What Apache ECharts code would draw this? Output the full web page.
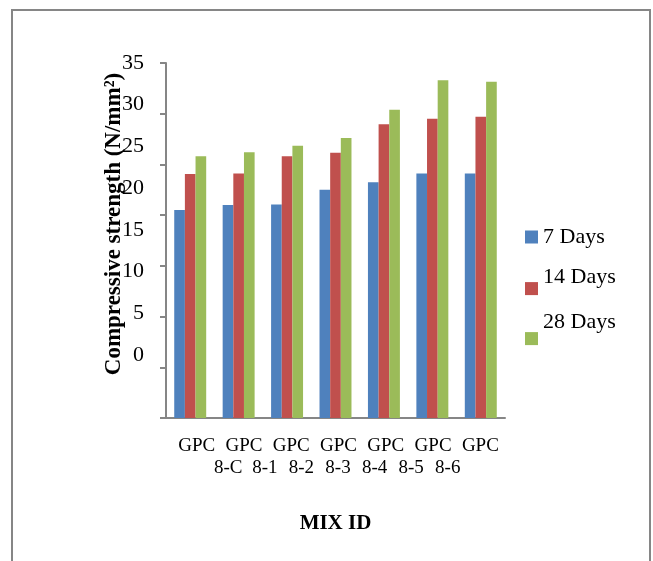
<!DOCTYPE html>
<html>
<head>
<meta charset="utf-8">
<style>
  html, body { margin: 0; padding: 0; background: #fff; }
  #chart { width: 653px; height: 561px; }
</style>
<script src="https://cdn.jsdelivr.net/npm/echarts@6/dist/echarts.min.js"></script>
</head>
<body>
<div id="chart"></div>
<script>
// Compressive strength of GPC mixes at three curing ages
const categories = ['GPC 8-C', 'GPC 8-1', 'GPC 8-2', 'GPC 8-3', 'GPC 8-4', 'GPC 8-5', 'GPC 8-6'];
const seriesNames = ['7 Days', '14 Days', '28 Days'];
const days7  = [20.5, 21.0, 21.05, 22.5, 23.25, 24.1, 24.1];
const days14 = [24.05, 24.1, 25.8, 26.15, 28.95, 29.5, 29.7];
const days28 = [25.8, 26.2, 26.85, 27.6, 30.4, 33.3, 33.15];
const yTicks = { min: 0, max: 35, step: 5 };

const colors = ['#4F81BD', '#C0504D', '#9BBB59'];
const serif = "'Liberation Serif', 'Times New Roman', serif";
const axisGray = '#868686';

// the two wrapped rows of the category labels
const labelRow1 = categories.map(c => c.split(' ')[0]);
const labelRow2 = categories.map(c => c.split(' ')[1]);

// legend entries: a blank second line lifts the name above its swatch
function legendEntry(name, top, lift) {
  const base = { fontFamily: serif, fontSize: 22, color: '#000' };
  return {
    data: [name], left: 525, top: top, padding: 0,
    itemWidth: 13, itemHeight: 13, itemGap: 0, icon: 'rect',
    formatter: lift ? (n => n + '\n ') : (n => n),
    textStyle: lift ? Object.assign(base, { lineHeight: lift * 2 }) : base
  };
}

const chart = echarts.init(document.getElementById('chart'), null, { renderer: 'canvas' });

chart.setOption({
  animation: false,
  backgroundColor: '#ffffff',
  graphic: [{
    type: 'rect',
    shape: { x: 12, y: 10, width: 638, height: 600 },
    style: { fill: 'none', stroke: axisGray, lineWidth: 2 },
    silent: true
  }],
  grid: [
    // plot area
    { left: 166, top: 63, width: 339, height: 355, outerBoundsMode: 'none', containLabel: false },
    // value labels column
    { left: 166, top: 63, width: 339, height: 292, outerBoundsMode: 'none', containLabel: false },
    // first label row
    { left: 173, top: 63, width: 331, height: 355, outerBoundsMode: 'none', containLabel: false },
    // second label row
    { left: 210, top: 63, width: 256, height: 355, outerBoundsMode: 'none', containLabel: false }
  ],
  legend: [
    legendEntry(seriesNames[0], 226, 0),
    legendEntry(seriesNames[1], 266, 11.3),
    legendEntry(seriesNames[2], 306, 16.3)
  ],
  xAxis: [
    {
      gridIndex: 0, type: 'category', data: categories,
      axisLine: { lineStyle: { color: axisGray, width: 2 } },
      axisTick: { show: false }, axisLabel: { show: false },
      name: 'MIX ID', nameLocation: 'middle', nameGap: 95,
      nameTextStyle: { fontFamily: serif, fontSize: 21, fontWeight: 'bold', color: '#000' }
    },
    { gridIndex: 1, type: 'category', data: categories, show: false },
    {
      gridIndex: 2, type: 'category', data: labelRow1,
      axisLine: { show: false }, axisTick: { show: false },
      axisLabel: { interval: 0, margin: 28, verticalAlign: 'middle', fontFamily: serif, fontSize: 19, color: '#000' }
    },
    {
      gridIndex: 3, type: 'category', data: labelRow2,
      axisLine: { show: false }, axisTick: { show: false },
      axisLabel: { interval: 0, margin: 50, verticalAlign: 'middle', fontFamily: serif, fontSize: 19, color: '#000' }
    }
  ],
  yAxis: [
    {
      gridIndex: 0, type: 'value', min: yTicks.min, max: yTicks.max, interval: yTicks.step,
      axisLine: { show: true, lineStyle: { color: axisGray, width: 2 } },
      axisTick: { show: true, length: 6, lineStyle: { color: axisGray, width: 2 } },
      axisLabel: { show: false }, splitLine: { show: false },
      name: 'Compressive strength (N/mm²)', nameLocation: 'middle', nameRotate: 90, nameGap: 40,
      nameTextStyle: { fontFamily: serif, fontSize: 23, fontWeight: 'bold', color: '#000', padding: [0, 0, 0, 33] }
    },
    {
      gridIndex: 1, type: 'value', min: yTicks.min, max: yTicks.max, interval: yTicks.step,
      axisLine: { show: false }, axisTick: { show: false }, splitLine: { show: false },
      axisLabel: { margin: 22, fontFamily: serif, fontSize: 22, color: '#000' }
    },
    { gridIndex: 2, type: 'value', min: 0, max: 1, show: false },
    { gridIndex: 3, type: 'value', min: 0, max: 1, show: false }
  ],
  series: [days7, days14, days28].map((vals, i) => ({
    type: 'bar', name: seriesNames[i], data: vals,
    xAxisIndex: 0, yAxisIndex: 0,
    barGap: '0%', barCategoryGap: '34%',
    itemStyle: { color: colors[i] }
  }))
});
</script>
</body>
</html>
